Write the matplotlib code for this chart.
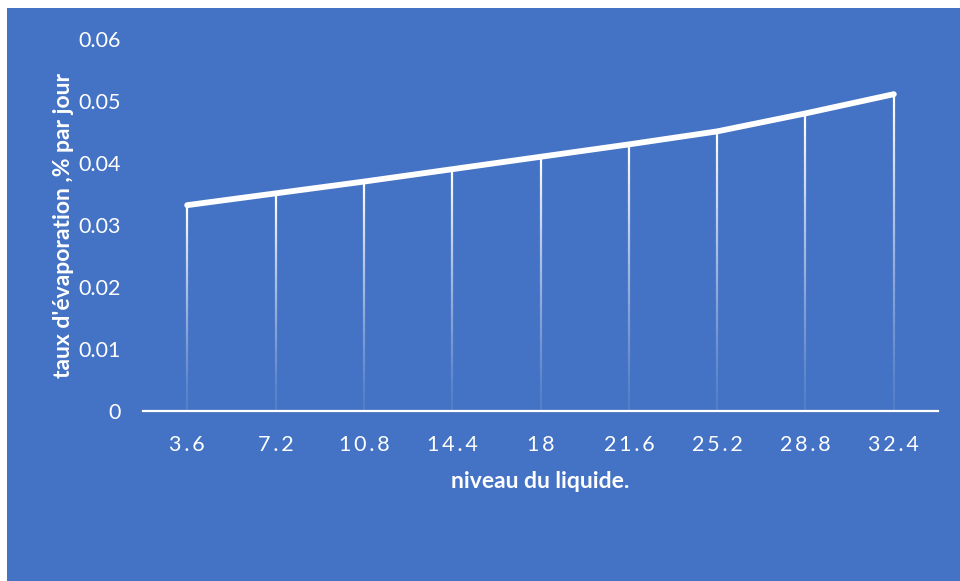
import matplotlib
matplotlib.use('Agg')
import matplotlib.pyplot as plt
from matplotlib.patches import Rectangle
import numpy as np

niveau = ['3.6', '7.2', '10.8', '14.4', '18', '21.6', '25.2', '28.8', '32.4']
taux = [0.0332, 0.0351, 0.0370, 0.0390, 0.0410, 0.0430, 0.0451, 0.0480, 0.0511]
yticks = [0, 0.01, 0.02, 0.03, 0.04, 0.05, 0.06]

blue = '#4472C4'
plt.rcParams['font.family'] = ['Lato', 'DejaVu Sans']

fig = plt.figure(figsize=(9.6, 5.81), dpi=100)
fig.patch.set_facecolor('white')
fig.add_artist(Rectangle((7 / 960, 0), 1, 1 - 8 / 581, transform=fig.transFigure,
                         facecolor=blue, edgecolor='none', zorder=-10))

ax = fig.add_axes([143 / 960, (581 - 411) / 581, (938 - 143) / 960, (411 - 39) / 581])
ax.set_facecolor('none')
ax.set_zorder(1)

x = np.arange(len(niveau))

# drop lines fading towards the axis
n = 40
for i in range(n):
    f0, f1 = i / n, (i + 1) / n
    ax.vlines(x, np.array(taux) * f0, np.array(taux) * f1, colors='white',
              linewidth=1.6, alpha=0.08 + 0.92 * f1 ** 1.3, zorder=2)

ax.plot(x, taux, color='white', linewidth=4.2, solid_capstyle='round',
        solid_joinstyle='round', zorder=3)

ax.set_xlim(-0.5, len(niveau) - 0.5)
ax.set_ylim(0, 0.06)
ax.set_yticks(yticks)
ax.set_yticklabels(['0' if v == 0 else f'{v:.2f}' for v in yticks])
ax.set_xticks(x)
ax.set_xticklabels(['\u2009'.join(s) for s in niveau])

for s in ['top', 'right', 'left']:
    ax.spines[s].set_visible(False)
ax.spines['bottom'].set_color('white')
ax.spines['bottom'].set_linewidth(1.6)
ax.tick_params(axis='both', length=0, colors='white', labelsize=15.5)
ax.tick_params(axis='y', pad=16)
ax.tick_params(axis='x', pad=17)

ax.set_xlabel('niveau du liquide.', color='white', fontsize=16.5, fontweight='bold', labelpad=12)
ax.set_ylabel("taux d'évaporation ,% par jour", color='white', fontsize=16.5,
              fontweight='bold', labelpad=3)

fig.savefig('out.png', dpi=100)
